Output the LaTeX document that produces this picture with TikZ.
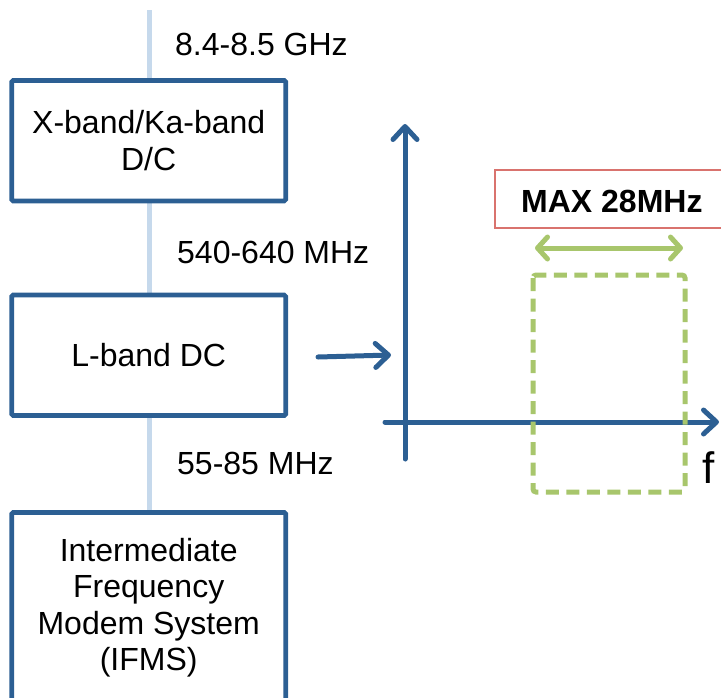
\documentclass[tikz,border=0pt]{standalone}
\usepackage{fontspec}
\setmainfont{Liberation Sans}
\usetikzlibrary{arrows.meta}
\definecolor{boxblue}{HTML}{2C5F93}
\definecolor{lineblue}{HTML}{C6D9EC}
\definecolor{okgreen}{HTML}{A8C66C}
\definecolor{softred}{HTML}{D9736E}
\tikzset{
  blockbox/.style={draw=boxblue, line width=4.7pt, rounded corners=1.5pt, fill=white,
    minimum width=274pt, inner sep=0pt, align=center,
    font=\fontsize{32}{36.5}\selectfont},
  freqlabel/.style={anchor=base west, inner sep=0pt, font=\fontsize{32}{36}\selectfont},
  axisline/.style={draw=boxblue, line width=5pt, line cap=round,
    -{Straight Barb[length=13pt,width=24pt,line width=5pt,round]}},
}
\begin{document}
\begin{tikzpicture}[x=1pt,y=-1pt]
\useasboundingbox (0,0) rectangle (721,697);
\clip (0,0) rectangle (721,697);
% signal chain line
\coordinate (ctop) at (149,10);
\coordinate (cbot) at (149,697);
\draw[lineblue, line width=5pt] (ctop) -- (cbot);
% boxes
\node[blockbox, minimum height=120.5pt] (xka) at (148.7,140.7) {X-band/Ka-band\\D/C};
\node[blockbox, minimum height=120.5pt] (lband) at (148.7,355.3) {L-band DC};
\node[blockbox, minimum height=190pt] (ifms) at (148.7,607.5) {Intermediate\\Frequency\\Modem System\\(IFMS)};
% frequency labels
\node[freqlabel] (f1) at (175,55) {8.4-8.5 GHz};
\node[freqlabel] (f2) at (177,263) {540-640 MHz};
\node[freqlabel] (f3) at (177,474) {55-85 MHz};
% arrow from L-band DC
\coordinate (as) at (318,357);
\coordinate (ae) at (391,355);
\draw[axisline] (as) -- (ae);
% axes
\coordinate (yb) at (405,459);
\coordinate (yt) at (405,124);
\coordinate (xl) at (385,422);
\coordinate (xr) at (719,422);
\draw[axisline] (yb) -- (yt);
\draw[axisline] (xl) -- (xr);
\node[anchor=base west, inner sep=0pt, font=\fontsize{44}{48}\selectfont] (flab) at (702,483) {f};
% MAX box
\draw[softred, line width=2pt, fill=white] (495,170) rectangle (740,228);
\node[anchor=base west, inner sep=0pt, font=\fontsize{32}{36}\selectfont\bfseries] (maxlab) at (521,212) {MAX 28MHz};
% green width arrow
\coordinate (gl) at (535,248);
\coordinate (gr) at (683,248);
\draw[okgreen, line width=5pt, line cap=round,
  {Straight Barb[length=10pt,width=22pt,line width=5pt,round]}-{Straight Barb[length=10pt,width=22pt,line width=5pt,round]}] (gl) -- (gr);
% dashed band
\draw[okgreen, line width=5pt, dash pattern=on 13pt off 7.5pt, rounded corners=3pt] (533,275) rectangle (685,492);
\end{tikzpicture}
\end{document}
